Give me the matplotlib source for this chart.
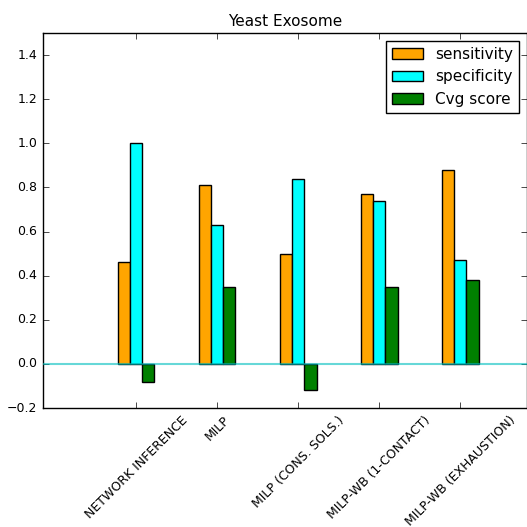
import numpy as np
import matplotlib
matplotlib.use("Agg")
import matplotlib.pyplot as plt

plt.style.use("classic")

methods = ["NETWORK INFERENCE", "MILP", "MILP (CONS. SOLS.)",
           "MILP-WB (1-CONTACT)", "MILP-WB (EXHAUSTION)"]
sensitivity = [0.46, 0.81, 0.50, 0.77, 0.88]
specificity = [1.00, 0.63, 0.84, 0.74, 0.47]
cvg_score = [-0.08, 0.35, -0.12, 0.35, 0.38]

ind = np.arange(len(methods))
w = 0.15

fig = plt.figure(figsize=(5.27, 5.27), facecolor="white")
ax = fig.add_axes([0.0816, 0.2258, 0.918, 0.7116])

ax.bar(ind - w, sensitivity, w, color="orange", edgecolor="black", label="sensitivity")
ax.bar(ind, specificity, w, color="cyan", edgecolor="black", label="specificity")
ax.bar(ind + w, cvg_score, w, color="green", edgecolor="black", label="Cvg score")
ax.axhline(0, color="c", alpha=0.6, linewidth=1.5, zorder=5)

ax.set_xlim(-1.15, 4.82)
ax.set_ylim(-0.2, 1.5)
ax.set_xticks(ind)
ax.set_xticklabels(methods, rotation=45, ha="center", fontsize=9)
ax.tick_params(axis="y", labelsize=9)
ax.set_title("Yeast Exosome", fontsize=11)
ax.legend(loc="upper right", fontsize=11, fancybox=False)

fig.savefig("out.png", dpi=100, facecolor="white")
